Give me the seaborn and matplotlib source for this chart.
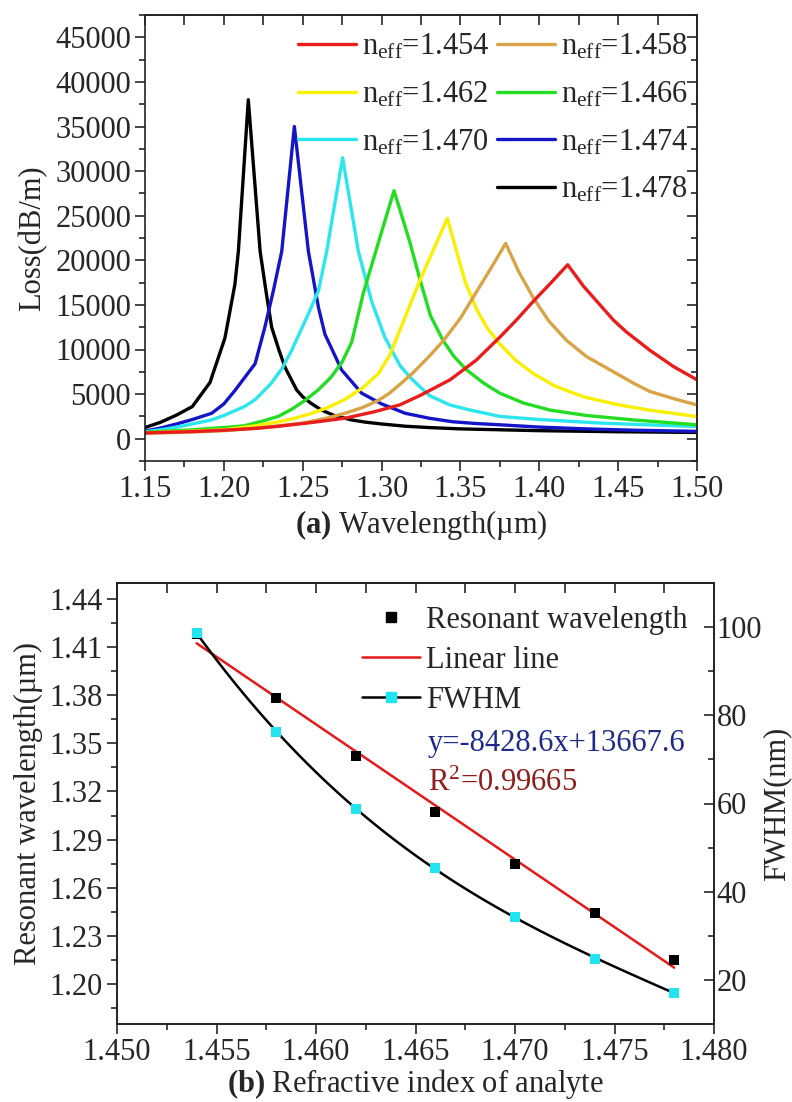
import numpy as np
import pandas as pd
import matplotlib
matplotlib.use("Agg")
import matplotlib.pyplot as plt
from matplotlib.ticker import MultipleLocator, FormatStrFormatter, NullFormatter
from matplotlib.lines import Line2D
import seaborn as sns

sns.set_theme(style="ticks")
plt.rcParams["font.family"] = ["Liberation Serif", "DejaVu Serif"]
plt.rcParams["mathtext.fontset"] = "custom"
plt.rcParams["mathtext.rm"] = "Liberation Serif"
plt.rcParams["mathtext.it"] = "Liberation Serif:italic"
plt.rcParams["mathtext.bf"] = "Liberation Serif:bold"
plt.rcParams["axes.linewidth"] = 1.2
plt.rcParams["axes.edgecolor"] = "#222222"

FS = 22

# ---------------- (a) confinement loss spectra ----------------
n_eff = ["1.454", "1.458", "1.462", "1.466", "1.470", "1.474", "1.478"]
colors = ["#EA1D1D", "#D9A447", "#F8F000", "#22DD22", "#2CE6EE", "#1515C8", "#000000"]

wl_1454 = [1.150, 1.180, 1.200, 1.220, 1.235, 1.255, 1.2768, 1.295, 1.3117, 1.325, 1.3434,
           1.360, 1.3751, 1.386, 1.3962, 1.407, 1.418, 1.428, 1.4385, 1.447, 1.455,
           1.4702, 1.485, 1.500]
loss_1454 = [650, 800, 950, 1150, 1400, 1800, 2300, 3000, 3800, 4900, 6600,
             8800, 11400, 13400, 15400, 17400, 19500, 17100, 15000, 13300, 12000,
             9900, 8100, 6600]

wl_1458 = [1.150, 1.180, 1.200, 1.225, 1.250, 1.265, 1.2768, 1.288, 1.298, 1.305, 1.3117,
           1.320, 1.330, 1.3392, 1.350, 1.3603, 1.370, 1.3787, 1.387, 1.3962, 1.406,
           1.4174, 1.430, 1.449, 1.460, 1.470, 1.485, 1.500]
loss_1458 = [600, 750, 900, 1250, 1750, 2300, 2850, 3500, 4300, 5100, 6100,
             7400, 9200, 11000, 13500, 16500, 19300, 21900, 18700, 15800, 13200,
             11000, 9200, 7300, 6200, 5300, 4500, 3780]

wl_1462 = [1.150, 1.180, 1.200, 1.220, 1.235, 1.245, 1.255, 1.266, 1.2768, 1.288, 1.298,
           1.305, 1.3117, 1.318, 1.3244, 1.3417, 1.353, 1.3603, 1.367,
           1.3751, 1.385, 1.3962, 1.410, 1.428, 1.450, 1.470, 1.500]
loss_1462 = [650, 850, 1000, 1450, 1900, 2300, 2800, 3500, 4400, 5700, 7300,
             9300, 12200, 15000, 17800, 24700, 17600, 14500, 12400,
             10600, 8800, 7300, 5900, 4700, 3800, 3200, 2480]

wl_1466 = [1.150, 1.180, 1.200, 1.213, 1.225, 1.2345, 1.243, 1.2515, 1.260, 1.268, 1.275,
           1.281, 1.2884, 1.298, 1.3079, 1.318, 1.3244, 1.331, 1.339, 1.346, 1.354,
           1.365, 1.375, 1.390, 1.407, 1.430, 1.460, 1.500]
loss_1466 = [720, 1000, 1250, 1450, 2000, 2500, 3300, 4300, 5500, 6900, 8600,
             10800, 16300, 22000, 27800, 22000, 17800, 13800, 11000, 9200, 7700,
             6200, 5100, 4000, 3200, 2600, 2100, 1560]

wl_1470 = [1.150, 1.160, 1.170, 1.180, 1.192, 1.200, 1.213, 1.220, 1.230, 1.237, 1.243,
           1.2536, 1.260, 1.2652, 1.2753, 1.2853, 1.2937, 1.302, 1.3117, 1.318, 1.3244,
           1.3307, 1.3434, 1.356, 1.375, 1.400, 1.440, 1.470, 1.500]
loss_1470 = [780, 1000, 1300, 1650, 2100, 2600, 3600, 4400, 6200, 7900, 9900,
             14000, 16600, 21000, 31500, 21000, 15400, 11400, 8200, 6900, 5800,
             4800, 3780, 3220, 2500, 2150, 1740, 1550, 1370]

wl_1474 = [1.150, 1.160, 1.171, 1.180, 1.1923, 1.200, 1.207, 1.2198, 1.226, 1.2314, 1.2367,
           1.2447, 1.2536, 1.260, 1.2641, 1.2747, 1.2874, 1.300, 1.315, 1.330, 1.345,
           1.360, 1.375, 1.400, 1.430, 1.460, 1.500]
loss_1474 = [850, 1200, 1700, 2150, 2850, 3900, 5400, 8400, 12500, 16600, 21000,
             35000, 21000, 14700, 11700, 7700, 5100, 3900, 2850, 2300, 1900,
             1700, 1560, 1300, 1100, 950, 820]

wl_1478 = [1.150, 1.160, 1.170, 1.180, 1.1912, 1.2007, 1.207, 1.2092, 1.2155, 1.223, 1.227,
           1.2303, 1.235, 1.2388, 1.2462, 1.250, 1.255, 1.262, 1.270, 1.281, 1.290,
           1.300, 1.315, 1.330, 1.350, 1.400, 1.450, 1.500]
loss_1478 = [1250, 1850, 2650, 3600, 6300, 11300, 17300, 21000, 38000, 21000, 16200,
             12500, 9900, 8000, 5450, 4700, 4000, 3200, 2600, 2100, 1850,
             1650, 1400, 1250, 1100, 900, 780, 700]

wl_sets = [wl_1454, wl_1458, wl_1462, wl_1466, wl_1470, wl_1474, wl_1478]
loss_sets = [loss_1454, loss_1458, loss_1462, loss_1466, loss_1470, loss_1474, loss_1478]

spectra = pd.concat(
    [pd.DataFrame({"wl": w, "loss": l, "n": n}) for w, l, n in zip(wl_sets, loss_sets, n_eff)],
    ignore_index=True,
)

# ---------------- (b) sensing characteristics ----------------
n_analyte = [1.454, 1.458, 1.462, 1.466, 1.470, 1.474, 1.478]
res_wl = [1.418, 1.378, 1.342, 1.307, 1.275, 1.244, 1.215]
fwhm = [98.7, 76.3, 58.7, 45.4, 34.2, 24.8, 17.1]
fit_slope = -8428.6     # nm per RIU
fit_intercept = 13667.6  # nm
fit_r2 = "0.99665"

fig = plt.figure(figsize=(7.92, 11.02), dpi=100)

# ---- panel (a) ----
ax1 = fig.add_axes([145 / 792, 1 - 461 / 1102, 552 / 792, 446 / 1102])
palette = dict(zip(n_eff, colors))
sns.lineplot(
    data=spectra, x="wl", y="loss", hue="n", hue_order=n_eff[::-1],
    palette=palette, estimator=None, sort=False, lw=2.4, legend=False, ax=ax1,
)
ax1.set_xlim(1.15, 1.50)
ax1.set_ylim(-2500, 47500)
ax1.xaxis.set_major_locator(MultipleLocator(0.05))
ax1.xaxis.set_minor_locator(MultipleLocator(0.025))
ax1.xaxis.set_major_formatter(FormatStrFormatter("%.2f"))
ax1.yaxis.set_major_locator(MultipleLocator(5000))
ax1.yaxis.set_minor_locator(MultipleLocator(2500))
ax1.tick_params(which="major", direction="out", length=7, width=1.2, labelsize=FS, pad=3,
                top=False, right=False)
ax1.tick_params(which="minor", direction="out", length=4, width=1.2, top=False, right=False)
ax1.set_xlabel(r"$\mathbf{(a)}$ Wavelength(µm)", fontsize=FS, labelpad=3)
ax1.set_ylabel("Loss(dB/m)", fontsize=FS, labelpad=6)

top1 = ax1.secondary_xaxis("top")
top1.xaxis.set_major_locator(MultipleLocator(0.025))
top1.xaxis.set_major_formatter(NullFormatter())
top1.tick_params(which="major", direction="in", length=7, width=1.2)
right1 = ax1.secondary_yaxis("right")
right1.yaxis.set_major_locator(MultipleLocator(5000))
right1.yaxis.set_minor_locator(MultipleLocator(2500))
right1.yaxis.set_major_formatter(NullFormatter())
right1.tick_params(which="major", direction="in", length=7, width=1.2)
right1.tick_params(which="minor", direction="in", length=4, width=1.2)

# legend: column 1 = 1.454/1.462/1.470, column 2 = 1.458/1.466/1.474/1.478
h = [Line2D([], [], color=c, lw=2.4) for c in colors]
blank = Line2D([], [], color="none", lw=0)
handles = [h[0], h[2], h[4], blank, h[1], h[3], h[5], h[6]]
labels = [r"n$_{\mathrm{eff}}$=" + n_eff[i] for i in (0, 2, 4)] + [""] + \
         [r"n$_{\mathrm{eff}}$=" + n_eff[i] for i in (1, 3, 5, 6)]
ax1.legend(handles, labels, ncol=2, loc="upper right", bbox_to_anchor=(0.985, 0.962),
           frameon=False, fontsize=FS, handlelength=1.9, handletextpad=0.2,
           columnspacing=0.25, labelspacing=0.6, borderpad=0, borderaxespad=0)

# ---- panel (b) ----
ax2 = fig.add_axes([117 / 792, 1 - 1024 / 1102, 597 / 792, 441 / 1102])
ax3 = ax2.twinx()

fit_x = [n_analyte[0], n_analyte[-1]]
fit_y = [(fit_slope * x + fit_intercept) / 1000.0 for x in fit_x]
sns.lineplot(x=fit_x, y=fit_y, color="#E41A1A", lw=1.8, ax=ax2)
sns.scatterplot(x=n_analyte, y=res_wl, marker="s", color="black", edgecolor="black",
                s=55, linewidth=0, ax=ax2, zorder=3)

sns.regplot(x=n_analyte, y=fwhm, order=3, ci=None, scatter=False, truncate=True,
            line_kws=dict(color="black", lw=1.8), ax=ax3)
sns.scatterplot(x=n_analyte, y=fwhm, marker="s", color="#22E4F0", edgecolor="#22E4F0",
                s=55, linewidth=0, ax=ax3, zorder=4)

ax2.set_xlim(1.450, 1.480)
ax2.set_ylim(1.175, 1.45)
ax3.set_ylim(10, 110)
ax2.xaxis.set_major_locator(MultipleLocator(0.005))
ax2.xaxis.set_minor_locator(MultipleLocator(0.0025))
ax2.xaxis.set_major_formatter(FormatStrFormatter("%.3f"))
ax2.yaxis.set_major_locator(MultipleLocator(0.03))
ax2.yaxis.set_minor_locator(MultipleLocator(0.015))
ax2.yaxis.set_major_formatter(FormatStrFormatter("%.2f"))
ax2.tick_params(which="major", direction="out", length=7, width=1.2, labelsize=FS, pad=3,
                top=False, right=False)
ax2.tick_params(which="minor", direction="out", length=4, width=1.2, top=False, right=False)
ax3.yaxis.set_major_locator(MultipleLocator(20))
ax3.yaxis.set_minor_locator(MultipleLocator(10))
ax3.tick_params(which="major", direction="in", length=7, width=1.2, labelsize=FS, pad=2)
ax3.tick_params(which="minor", direction="in", length=4, width=1.2)

top2 = ax2.secondary_xaxis("top")
top2.xaxis.set_major_locator(MultipleLocator(0.0025))
top2.xaxis.set_major_formatter(NullFormatter())
top2.tick_params(which="major", direction="in", length=7, width=1.2)

ax2.set_xlabel(r"$\mathbf{(b)}$ Refractive index of analyte", fontsize=FS, labelpad=0)
ax2.set_ylabel("Resonant wavelength(µm)", fontsize=FS, labelpad=5)
ax3.set_ylabel("FWHM(nm)", fontsize=FS, labelpad=0)

leg_handles = [
    Line2D([], [], ls="none", marker="s", color="black", ms=7),
    Line2D([], [], color="#E41A1A", lw=1.8),
    Line2D([], [], color="black", lw=1.8, marker="s", mfc="#22E4F0", mec="#22E4F0", ms=7),
]
leg_labels = ["Resonant wavelength", "Linear line", "FWHM"]
ax3.legend(leg_handles, leg_labels, loc="upper left", bbox_to_anchor=(0.41, 0.948),
           frameon=False, fontsize=FS, handlelength=1.9, handletextpad=0.2,
           labelspacing=0.36, borderpad=0, borderaxespad=0)

eq_text = "y={:.1f}x+{:.1f}".format(fit_slope, fit_intercept)
ax3.text(0.521, 0.636, eq_text, transform=ax3.transAxes, color="#1F2A8A",
         fontsize=FS, va="center", ha="left")
ax3.text(0.521, 0.545, r"R$^2$=" + fit_r2, transform=ax3.transAxes, color="#8E1C1C",
         fontsize=FS, va="center", ha="left")

fig.savefig("out.png", dpi=100)
